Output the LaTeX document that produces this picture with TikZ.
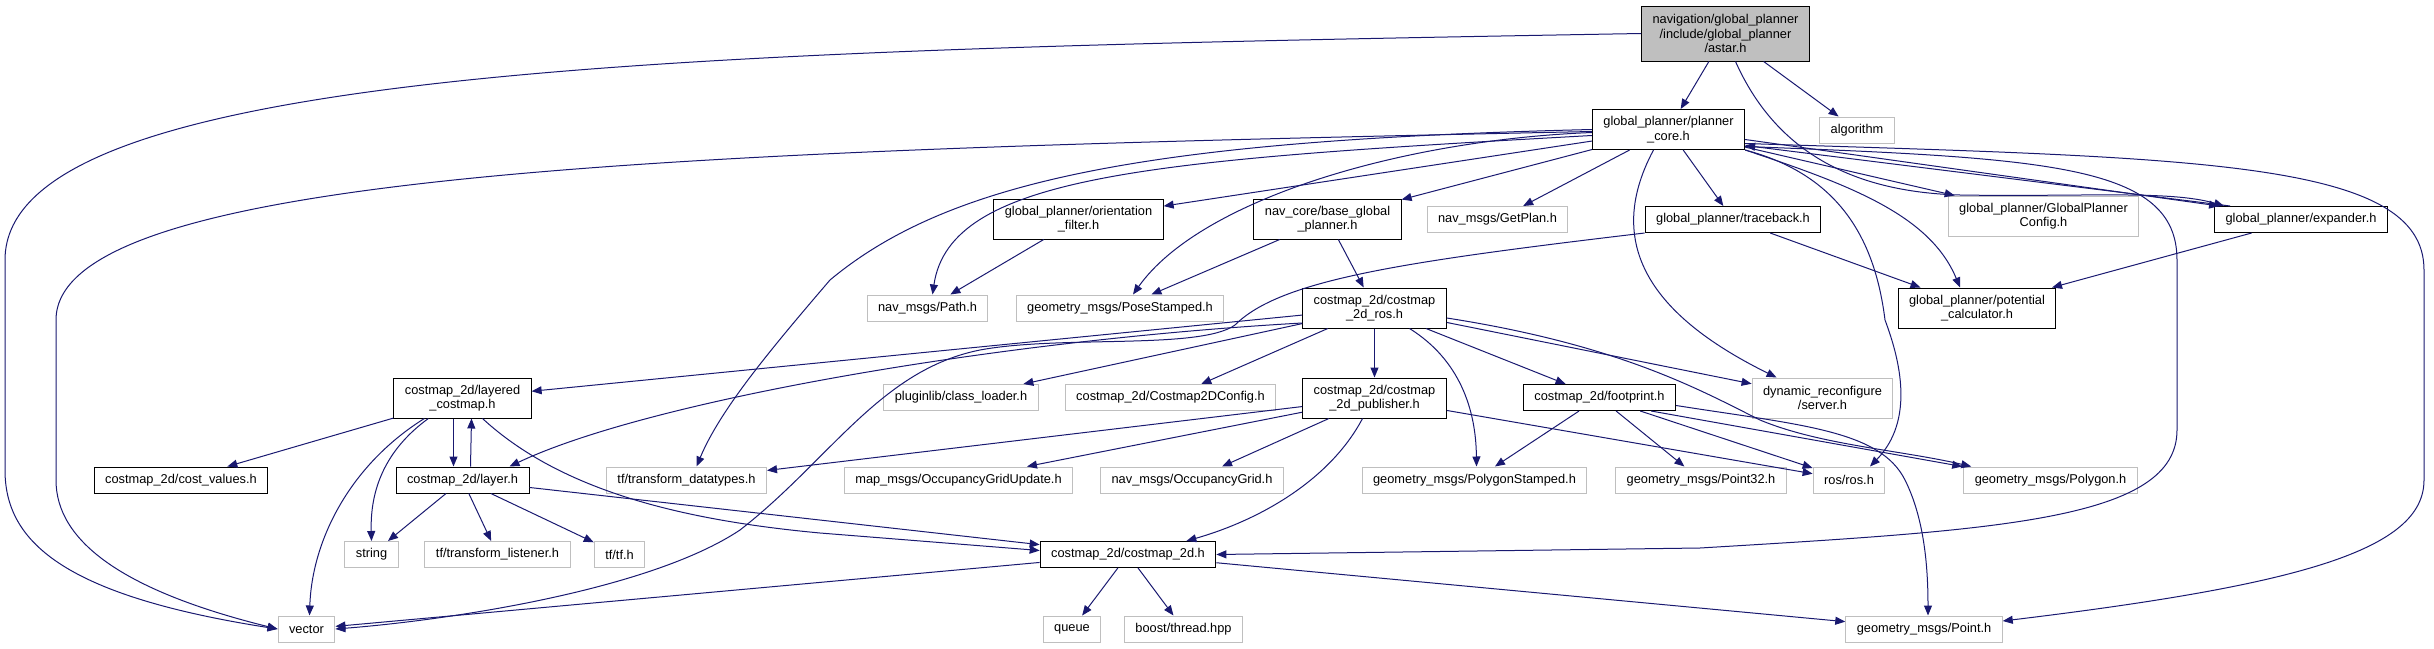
\documentclass[tikz,border=0pt]{standalone}
\usepackage{fontspec}
\setmainfont{Liberation Sans}
\usetikzlibrary{arrows.meta,calc}
\definecolor{edgeblue}{HTML}{191970}
\definecolor{extgray}{HTML}{BFBFBF}

\begin{document}
\begin{tikzpicture}[x=1pt, y=-1pt, >={Triangle[length=10pt,width=8pt]},
    hdr/.style={draw=black, line width=1pt, rectangle, inner xsep=11pt, inner ysep=2pt, minimum height=26pt, align=center, font=\fontsize{12.8}{14.5}\selectfont},
    ext/.style={hdr, draw=extgray},
    rootnode/.style={hdr, fill=extgray, minimum height=55pt},
    twoline/.style={minimum height=40pt},
    dep/.style={->, draw=edgeblue, line width=1pt}]
    \useasboundingbox (0,0) rectangle (2434,648);
    % Nodes
    \node[rootnode] (astar) at (1725.5,33.5) {navigation/global\_planner\\/include/global\_planner\\/astar.h};
    \node[hdr, twoline] (core) at (1668.5,129.5) {global\_planner/planner\\\_core.h};
    \node[ext] (algo) at (1857,130) {algorithm};
    \node[hdr] (traceback) at (1733,219.5) {global\_planner/traceback.h};
    \node[hdr, twoline] (potential) at (1977,308) {global\_planner/potential\\\_calculator.h};
    \node[ext, twoline] (gpconfig) at (2043.5,216) {global\_planner/GlobalPlanner\\Config.h};
    \node[hdr] (expander) at (2301,219.5) {global\_planner/expander.h};
    \node[hdr, twoline] (orient) at (1078.5,219) {global\_planner/orientation\\\_filter.h};
    \node[ext] (navpath) at (927.5,308) {nav\_msgs/Path.h};
    \node[ext] (posest) at (1120,308) {geometry\_msgs/PoseStamped.h};
    \node[hdr, twoline] (bgp) at (1327.5,219) {nav\_core/base\_global\\\_planner.h};
    \node[ext] (getplan) at (1497.5,219.5) {nav\_msgs/GetPlan.h};
    \node[hdr, twoline] (ros2d) at (1374.5,308) {costmap\_2d/costmap\\\_2d\_ros.h};
    \node[ext, twoline] (dynrec) at (1822.5,398) {dynamic\_reconfigure\\/server.h};
    \node[hdr, twoline] (layered) at (462.5,398) {costmap\_2d/layered\\\_costmap.h};
    \node[ext] (pluginlib) at (961,397.5) {pluginlib/class\_loader.h};
    \node[ext] (cmcfg) at (1170.5,397.5) {costmap\_2d/Costmap2DConfig.h};
    \node[hdr, twoline] (publisher) at (1374.5,398) {costmap\_2d/costmap\\\_2d\_publisher.h};
    \node[hdr] (footprint) at (1599.5,397.5) {costmap\_2d/footprint.h};
    \node[hdr] (costvalues) at (181,480) {costmap\_2d/cost\_values.h};
    \node[hdr] (layer) at (462.5,480) {costmap\_2d/layer.h};
    \node[ext] (tfdata) at (686.5,480) {tf/transform\_datatypes.h};
    \node[ext] (ogupdate) at (958.5,480) {map\_msgs/OccupancyGridUpdate.h};
    \node[ext] (ogrid) at (1192,480) {nav\_msgs/OccupancyGrid.h};
    \node[ext] (polystamped) at (1474.5,480) {geometry\_msgs/PolygonStamped.h};
    \node[ext] (point32) at (1701,480) {geometry\_msgs/Point32.h};
    \node[ext] (rosh) at (1849,480) {ros/ros.h};
    \node[ext] (polygon) at (2050.5,480) {geometry\_msgs/Polygon.h};
    \node[ext] (string) at (371.5,554.5) {string};
    \node[ext] (tflistener) at (497.5,554.5) {tf/transform\_listener.h};
    \node[ext] (tfh) at (619.5,554.5) {tf/tf.h};
    \node[hdr] (cm2d) at (1128,554.5) {costmap\_2d/costmap\_2d.h};
    \node[ext] (vector) at (306.5,629) {vector};
    \node[ext] (queue) at (1072,629) {queue};
    \node[ext] (thread) at (1183.5,629) {boost/thread.hpp};
    \node[ext] (point) at (1924,629) {geometry\_msgs/Point.h};
    % Arrows: astar.h
    \draw[dep] (astar) -- (core);
    \draw[dep] (astar) -- (algo);
    \draw[dep] (astar.west) .. controls (700,50) and (5,65) .. (5,260) -- (5,470) .. controls (5,540) and (60,595) .. (vector.west);
    \draw[dep] ($(astar.south)+(10,0)$) .. controls (1775,150) and (1850,192) .. (1960,195) .. controls (2080,197) and (2170,190) .. ($(expander.north west)+(10,0)$);
    % Arrows: planner_core.h
    \draw[dep] ($(core.west)+(0,2)$) .. controls (700,150) and (56,170) .. (56,320) -- (56,480) .. controls (56,540) and (120,590) .. (vector.west);
    \draw[dep] (core.west) .. controls (1150,140) and (950,180) .. (830,280) .. controls (770,350) and (720,410) .. ($(tfdata.north)+(10,0)$);
    \draw[dep] ($(core.west)+(0,6)$) .. controls (1150,160) and (950,175) .. ($(navpath.north)+(5,0)$);
    \draw[dep] (core) -- (orient);
    \draw[dep] ($(core.west)+(0,3)$) .. controls (1400,140) and (1200,200) .. ($(posest.north)+(13,0)$);
    \draw[dep] (core) -- (bgp);
    \draw[dep] (core) -- (getplan);
    \draw[dep] (core) -- (traceback);
    \draw[dep] ($(core.south)+(-15,0)$) .. controls (1600,250) and (1660,320) .. ($(dynrec.north west)+(25,0)$);
    \draw[dep] (core.south east) .. controls (1850,185) and (1930,215) .. ($(potential.north)+(-17,0)$);
    \draw[dep] (core.south east) .. controls (1840,175) and (1875,240) .. (1885,320) .. controls (1900,360) and (1915,420) .. ($(rosh.north)+(21,0)$);
    \draw[dep] (core) -- (gpconfig);
    \draw[dep] ($(core.east)+(0,10)$) -- ($(expander.north west)+(5,0)$);
    \draw[dep] ($(core.east)+(0,14)$) .. controls (2200,158) and (2424,160) .. (2424,270) -- (2424,480) .. controls (2424,550) and (2300,585) .. ($(point.east)+(0,-8)$);
    \draw[dep] ($(core.east)+(0,17)$) .. controls (2050,158) and (2177,165) .. (2177,260) -- (2177,430) .. controls (2177,520) and (2000,530) .. (1700,548) -- (cm2d.east);
    % Arrows: expander.h, traceback.h
    \draw[dep] ($(expander.north west)+(16,0)$) -- ($(core.east)+(0,16)$);
    \draw[dep] (expander) -- (potential);
    \draw[dep] (traceback) -- (potential);
    \draw[dep] (traceback.south west) .. controls (1400,262) and (1280,280) .. (1235,325) .. controls (1200,350) and (1060,335) .. (980,350) .. controls (880,370) and (830,460) .. (740,530) .. controls (650,590) and (450,620) .. (vector.east);
    \draw[dep] (orient) -- (navpath);
    \draw[dep] (bgp) -- (ros2d);
    \draw[dep] (bgp) -- (posest);
    % Arrows: costmap_2d_ros.h
    \draw[dep] (ros2d) -- (layered);
    \draw[dep] ($(ros2d.west)+(0,15)$) .. controls (1000,340) and (650,400) .. ($(layer.north east)+(-20,0)$);
    \draw[dep] (ros2d) -- (pluginlib);
    \draw[dep] (ros2d) -- (cmcfg);
    \draw[dep] (ros2d) -- (publisher);
    \draw[dep] ($(ros2d.south)+(35,0)$) .. controls (1460,360) and (1476,410) .. ($(polystamped.north)+(2,0)$);
    \draw[dep] (ros2d) -- (footprint);
    \draw[dep] (ros2d) -- (dynrec);
    \draw[dep] ($(ros2d.east)+(0,10)$) .. controls (1620,345) and (1700,390) .. (1760,420) .. controls (1820,445) and (1900,450) .. ($(polygon.north west)+(8,0)$);
    % Arrows: footprint.h
    \draw[dep] (footprint) -- (polystamped);
    \draw[dep] (footprint) -- (point32);
    \draw[dep] (footprint) -- (rosh);
    \draw[dep] ($(footprint.south east)+(-25,0)$) -- ($(polygon.north west)+(-1,0)$);
    \draw[dep] ($(footprint.east)+(0,8)$) .. controls (1800,425) and (1880,430) .. (1905,480) .. controls (1925,520) and (1928,570) .. ($(point.north)+(4,0)$);
    % Arrows: costmap_2d_publisher.h
    \draw[dep] (publisher) -- (tfdata);
    \draw[dep] (publisher) -- (ogupdate);
    \draw[dep] (publisher) -- (ogrid);
    \draw[dep] ($(publisher.south)+(-12,0)$) .. controls (1330,480) and (1260,520) .. ($(cm2d.north east)+(-30,0)$);
    \draw[dep] (publisher) -- (rosh);
    % Arrows: layered_costmap.h, layer.h
    \draw[dep] (layered) -- (costvalues);
    \draw[dep] ($(layered.south)+(-9,0)$) -- ($(layer.north)+(-9,0)$);
    \draw[dep] ($(layer.north)+(8,0)$) -- ($(layered.south)+(9,0)$);
    \draw[dep] ($(layered.south west)+(35,0)$) .. controls (385,450) and (370,490) .. (string.north);
    \draw[dep] ($(layered.south west)+(31,0)$) .. controls (350,465) and (312,540) .. ($(vector.north)+(3,0)$);
    \draw[dep] ($(layered.south)+(20,0)$) .. controls (560,490) and (680,520) .. (820,533) -- ($(cm2d.west)+(0,-4)$);
    \draw[dep] (layer) -- (string);
    \draw[dep] (layer) -- (tflistener);
    \draw[dep] (layer) -- (tfh);
    \draw[dep] (layer) -- (cm2d);
    % Arrows: costmap_2d.h
    \draw[dep] (cm2d) -- (vector);
    \draw[dep] (cm2d) -- (queue);
    \draw[dep] (cm2d) -- (thread);
    \draw[dep] (cm2d) -- (point);
\end{tikzpicture}
\end{document}
